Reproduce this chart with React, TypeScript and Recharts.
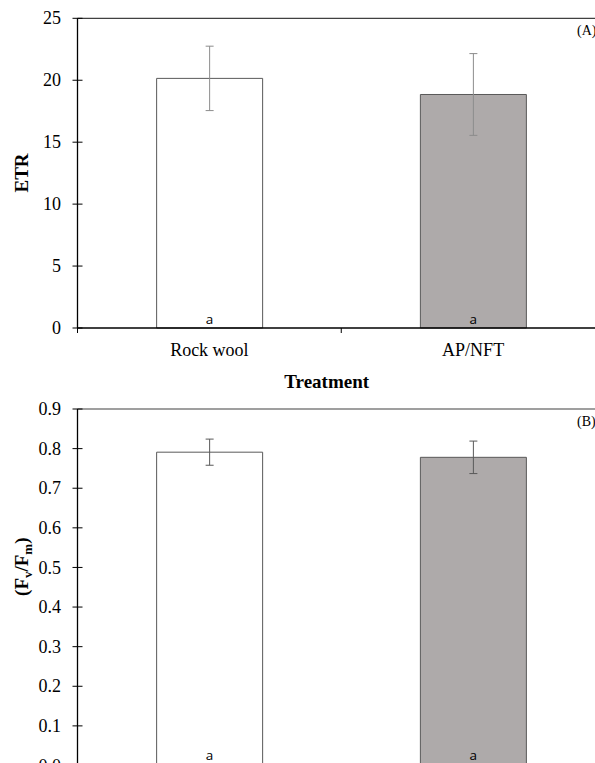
import { Bar, BarChart, Cell, ErrorBar, LabelList, ReferenceLine, XAxis, YAxis } from 'recharts'

const treatments = ['Rock wool', 'AP/NFT']
const etrMean = [20.15, 18.85]
const etrErr = [2.6, 3.3]
const fvfmMean = [0.791, 0.778]
const fvfmErr = [0.033, 0.041]
const letters = ['a', 'a']
const etrTicks = [0, 5, 10, 15, 20, 25]
const fvfmTicks = [0, 0.1, 0.2, 0.3, 0.4, 0.5, 0.6, 0.7, 0.8, 0.9]

const fills = ['#ffffff', '#aeaaaa']
const SERIF = '"Liberation Serif", "Times New Roman", serif'

const etrData = treatments.map((name, i) => ({ name, value: etrMean[i], err: etrErr[i], letter: letters[i] }))
const fvfmData = treatments.map((name, i) => ({ name, value: fvfmMean[i], err: fvfmErr[i], letter: letters[i] }))

// chart geometry (wider than the page, the right edge is cropped like the original)
const CHART_W = 620
const AXIS_W = 77.5
const RIGHT = 15
const HALF_BAND = (CHART_W - AXIS_W - RIGHT) / treatments.length / 2

/** y tick: number + a tick mark that crosses the axis line */
function YTick({ x, y, payload, digits }: any) {
  return (
    <g>
      <line x1={x + 11.5} x2={x + 21.5} y1={y} y2={y} stroke="#000" strokeWidth={1} />
      <text x={x} y={y} dy="0.34em" textAnchor="end" fontFamily={SERIF} fontSize={18} fill="#000">
        {Number(payload.value).toFixed(digits)}
      </text>
    </g>
  )
}

/** x tick: category label, tick marks sit on the category boundaries */
function XTick({ x, y, payload, index }: any) {
  return (
    <g>
      <line x1={x - HALF_BAND} x2={x - HALF_BAND} y1={y} y2={y + 5} stroke="#000" />
      {index === treatments.length - 1 && (
        <line x1={x + HALF_BAND} x2={x + HALF_BAND} y1={y} y2={y + 5} stroke="#000" />
      )}
      <text x={x} y={y + 27.5} textAnchor="middle" fontFamily={SERIF} fontSize={18} fill="#000">
        {payload.value}
      </text>
    </g>
  )
}

function XTitle() {
  return (
    <text x={326.7} y={387.7} textAnchor="middle" fontFamily={SERIF} fontSize={19} fontWeight="bold">
      Treatment
    </text>
  )
}

function YTitle({ cy, children }: any) {
  return (
    <text
      x={21.7}
      y={cy}
      dy="0.33em"
      transform={`rotate(-90, 21.7, ${cy})`}
      textAnchor="middle"
      fontFamily={SERIF}
      fontSize={19}
      fontWeight="bold"
    >
      {children}
    </text>
  )
}

function Tag({ ty, text }: any) {
  return (
    <text x={577} y={ty} fontFamily={SERIF} fontSize={14} fill="#000">
      {text}
    </text>
  )
}

export default function App() {
  return (
    <div style={{ position: 'absolute', left: 0, top: 0, width: 595, height: 763, overflow: 'hidden', background: '#fff' }}>
      {/* (A) ETR */}
      <div style={{ position: 'absolute', left: 0, top: 0 }}>
        <BarChart width={CHART_W} height={400} data={etrData} margin={{ top: 18.3, right: RIGHT, left: 0, bottom: 10 }} barCategoryGap="30%">
          <XAxis
            dataKey="name"
            height={62}
            axisLine={{ stroke: '#000', strokeWidth: 1.3 }}
            tickLine={false}
            tickSize={0}
            tickMargin={0}
            tick={<XTick />}
            interval={0}
            label={<XTitle />}
          />
          <YAxis
            width={AXIS_W}
            domain={[0, 25]}
            ticks={etrTicks}
            interval={0}
            axisLine={{ stroke: '#000', strokeWidth: 1.3 }}
            tickLine={false}
            tickSize={5}
            tickMargin={11.5}
            tick={<YTick digits={0} />}
            label={<YTitle cy={173}>ETR</YTitle>}
          />
          <ReferenceLine y={25} stroke="#404040" strokeWidth={1.2} label={<Tag ty={35} text="(A)" />} />
          <Bar dataKey="value" stroke="#595959" strokeWidth={1} isAnimationActive={false}>
            {etrData.map((d, i) => (
              <Cell key={d.name} fill={fills[i]} />
            ))}
            <ErrorBar dataKey="err" direction="y" width={4} stroke="#8c8c8c" strokeWidth={1} />
            <LabelList dataKey="letter" position="insideBottom" offset={4.4} fontFamily='"Open Sans", sans-serif' fontSize={13.5} fill="#000" />
          </Bar>
        </BarChart>
      </div>

      {/* (B) Fv/Fm */}
      <div style={{ position: 'absolute', left: 0, top: 391 }}>
        <BarChart width={CHART_W} height={420} data={fvfmData} margin={{ top: 18, right: RIGHT, left: 0, bottom: 10.5 }} barCategoryGap="30%">
          <XAxis
            dataKey="name"
            height={35}
            axisLine={{ stroke: '#000', strokeWidth: 1.3 }}
            tickLine={false}
            tick={false}
          />
          <YAxis
            width={AXIS_W}
            domain={[0, 0.9]}
            ticks={fvfmTicks}
            interval={0}
            axisLine={{ stroke: '#000', strokeWidth: 1.3 }}
            tickLine={false}
            tickSize={5}
            tickMargin={11.5}
            tick={<YTick digits={1} />}
            label={
              <YTitle cy={175.7}>
                (F<tspan dy="4" fontSize={13}>v</tspan>
                <tspan dy="-4">/F</tspan>
                <tspan dy="4" fontSize={13}>m</tspan>
                <tspan dy="-4">)</tspan>
              </YTitle>
            }
          />
          <ReferenceLine y={0.9} stroke="#404040" strokeWidth={1.2} label={<Tag ty={35} text="(B)" />} />
          <Bar dataKey="value" stroke="#595959" strokeWidth={1} isAnimationActive={false}>
            {fvfmData.map((d, i) => (
              <Cell key={d.name} fill={fills[i]} />
            ))}
            <ErrorBar dataKey="err" direction="y" width={4} stroke="#595959" strokeWidth={1} />
            <LabelList dataKey="letter" position="insideBottom" offset={5.5} fontFamily='"Open Sans", sans-serif' fontSize={13.5} fill="#000" />
          </Bar>
        </BarChart>
      </div>
    </div>
  )
}
